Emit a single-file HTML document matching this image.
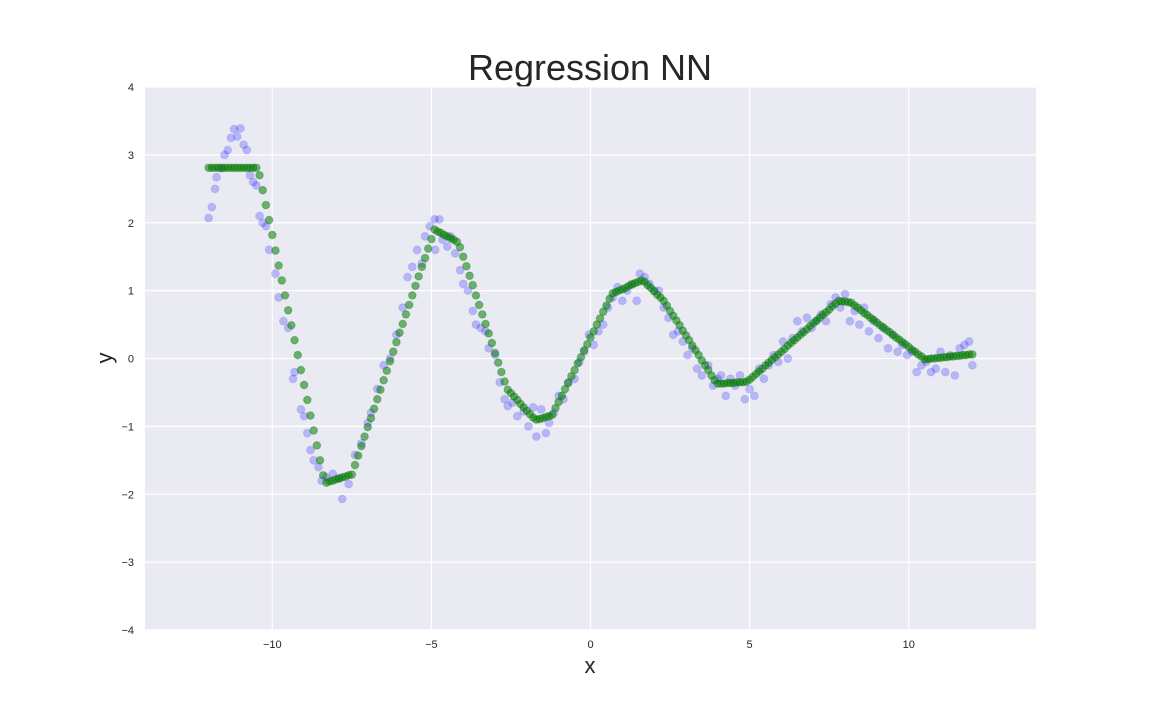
<!DOCTYPE html>
<html><head><meta charset="utf-8"><style>
html,body{margin:0;padding:0;background:#fff;}
svg{display:block;font-family:"Liberation Sans",sans-serif;}
</style></head><body>
<svg id="chart" width="1152" height="720">
<text x="590" y="80" text-anchor="middle" font-size="36" fill="#262626">Regression NN</text>
<rect x="145" y="87" width="891" height="543" fill="#eaeaf2"/>
<g id="grid"></g>
<g id="ticks"></g>
<g id="blue"></g>
<g id="green"></g>
<text x="590" y="673" text-anchor="middle" font-size="22" fill="#262626">x</text>
<text x="0" y="0" transform="translate(112,358) rotate(-90)" text-anchor="middle" font-size="22" fill="#262626">y</text>
</svg>
<script>
const xTicks = [-10, -5, 0, 5, 10];
const xTickLabels = ["\u221210", "\u22125", "0", "5", "10"];
const yTicks = [-4, -3, -2, -1, 0, 1, 2, 3, 4];
const yTickLabels = ["\u22124", "\u22123", "\u22122", "\u22121", "0", "1", "2", "3", "4"];
const greenStartX = -12;
const greenStepX = 0.1;
const greenY = [
2.81,2.81,2.81,2.81,2.81,2.81,2.81,2.81,2.81,2.81,2.81,2.81,2.81,2.81,2.81,2.81,
2.70,2.48,2.26,2.04,1.82,1.59,1.37,1.15,0.93,0.71,0.49,0.27,0.05,-0.17,-0.39,-0.61,-0.84,-1.06,-1.28,-1.50,-1.72,
-1.83,
-1.81,-1.80,-1.78,-1.77,-1.75,-1.74,-1.72,-1.71,
-1.57,-1.43,-1.29,-1.15,-1.01,-0.88,-0.74,-0.60,-0.46,-0.32,-0.18,-0.04,0.10,0.24,0.38,0.51,0.65,0.79,0.93,1.07,1.21,1.35,1.48,1.62,1.76,1.90,
1.87,1.85,1.82,1.80,1.77,1.75,1.72,
1.64,1.50,1.36,1.22,1.08,0.93,0.79,0.65,0.51,0.37,0.23,0.08,-0.06,-0.20,-0.34,-0.46,
-0.51,-0.56,-0.61,-0.67,-0.72,-0.77,-0.82,-0.87,-0.90,
-0.89,-0.88,-0.86,-0.85,-0.83,
-0.73,-0.64,-0.55,-0.45,-0.36,-0.26,-0.17,-0.07,0.02,0.12,0.21,0.31,0.40,0.50,0.59,0.69,0.78,0.88,0.96,
0.98,1.00,1.02,1.04,1.07,1.09,1.11,1.13,1.15,
1.13,1.08,1.04,0.99,0.94,0.90,0.85,0.78,0.70,0.63,0.56,0.49,0.41,0.34,0.27,0.19,0.12,0.05,-0.03,-0.10,-0.17,-0.25,-0.32,-0.37,
-0.37,-0.37,-0.36,-0.36,-0.36,-0.35,-0.35,-0.35,-0.34,
-0.31,-0.27,-0.23,-0.19,-0.15,-0.10,-0.06,-0.02,0.02,0.06,0.10,0.14,0.19,0.23,0.27,0.31,0.35,0.39,0.43,0.48,0.52,0.56,0.60,0.64,0.68,0.72,0.77,0.81,0.85,
0.84,0.84,0.83,0.82,
0.78,0.75,0.71,0.67,0.64,0.60,0.57,0.53,0.49,0.46,0.42,0.39,0.35,0.31,0.28,0.24,0.21,0.17,0.13,0.10,0.06,0.03,-0.01,
-0.01,0.00,0.00,0.01,0.01,0.02,0.02,0.03,0.03,0.04,0.04,0.05,0.05,0.06,0.06
];
const blueX = [-12,-11.9,-11.8,-11.75,-11.6,-11.5,-11.4,-11.3,-11.2,-11.1,-11.0,-10.9,-10.8,-10.7,-10.6,-10.5,-10.4,-10.3,-10.2,-10.1,-9.9,-9.8,-9.65,-9.5,-9.35,-9.3,-9.1,-9.0,-8.9,-8.8,-8.7,-8.55,-8.45,-8.3,-8.1,-7.9,-7.8,-7.6,-7.4,-7.2,-7.0,-6.9,-6.7,-6.5,-6.3,-6.1,-5.9,-5.75,-5.6,-5.45,-5.3,-5.2,-5.05,-4.9,-4.75,-4.88,-4.65,-4.5,-4.4,-4.25,-4.1,-4.0,-3.85,-3.7,-3.6,-3.45,-3.3,-3.2,-3.0,-2.85,-2.7,-2.6,-2.45,-2.3,-2.1,-1.95,-1.8,-1.7,-1.55,-1.4,-1.3,-1.15,-1.0,-0.85,-0.7,-0.5,-0.35,-0.2,-0.05,0.1,0.25,0.4,0.55,0.7,0.85,1.0,1.15,1.3,1.45,1.55,1.7,1.85,2.0,2.15,2.3,2.45,2.6,2.75,2.9,3.05,3.2,3.35,3.5,3.7,3.85,4.0,4.1,4.25,4.4,4.55,4.7,4.85,5.0,5.15,5.3,5.45,5.6,5.75,5.9,6.05,6.2,6.35,6.5,6.65,6.8,6.95,7.1,7.25,7.4,7.55,7.7,7.85,8.0,8.15,8.3,8.45,8.6,8.75,8.9,9.05,9.2,9.35,9.5,9.65,9.8,9.95,10.1,10.25,10.4,10.55,10.7,10.85,11.0,11.15,11.3,11.45,11.6,11.75,11.9,12.0];
const blueY = [2.07,2.23,2.5,2.67,2.8,3.0,3.07,3.25,3.38,3.27,3.39,3.15,3.07,2.7,2.6,2.55,2.1,2.0,1.95,1.6,1.25,0.9,0.55,0.45,-0.3,-0.2,-0.75,-0.85,-1.1,-1.35,-1.5,-1.6,-1.8,-1.75,-1.7,-1.76,-2.07,-1.85,-1.42,-1.25,-0.95,-0.8,-0.45,-0.1,0.0,0.35,0.75,1.2,1.35,1.6,1.4,1.8,1.95,2.05,2.05,1.6,1.75,1.65,1.8,1.55,1.3,1.1,1.0,0.7,0.5,0.45,0.4,0.15,0.05,-0.35,-0.6,-0.7,-0.65,-0.85,-0.78,-1.0,-0.72,-1.15,-0.75,-1.1,-0.95,-0.8,-0.55,-0.6,-0.35,-0.3,-0.05,0.1,0.35,0.2,0.4,0.5,0.75,0.9,1.05,0.85,1.0,1.1,0.85,1.25,1.2,1.1,1.0,1.0,0.75,0.6,0.35,0.4,0.25,0.05,0.15,-0.15,-0.25,-0.1,-0.4,-0.3,-0.25,-0.55,-0.3,-0.4,-0.25,-0.6,-0.45,-0.55,-0.15,-0.3,-0.1,0.05,-0.05,0.25,0.0,0.3,0.55,0.4,0.6,0.45,0.55,0.65,0.55,0.8,0.9,0.75,0.95,0.55,0.7,0.5,0.75,0.4,0.55,0.3,0.45,0.15,0.35,0.1,0.2,0.05,0.1,-0.2,-0.1,-0.05,-0.2,-0.15,0.1,-0.2,0.05,-0.25,0.15,0.2,0.25,-0.1];

const NS = "http://www.w3.org/2000/svg";
const L = 145, R = 1036, T = 87, B = 630;
const xMin = -14, xMax = 14, yMin = -4, yMax = 4;
function sx(v){ return L + (v - xMin) / (xMax - xMin) * (R - L); }
function sy(v){ return B - (v - yMin) / (yMax - yMin) * (B - T); }
function mk(tag, attrs){ const e = document.createElementNS(NS, tag); for (const k in attrs) e.setAttribute(k, attrs[k]); return e; }

const grid = document.getElementById('grid');
const ticks = document.getElementById('ticks');
xTicks.forEach((v, i) => {
  const ln = mk('line', {x1: sx(v), x2: sx(v), y1: T, y2: B, stroke: '#fff', 'stroke-width': 1.2});
  
  
  grid.appendChild(ln);
  const t = mk('text', {x: sx(v), y: B + 18, 'text-anchor': 'middle', 'font-size': 11, fill: '#262626'});
  t.textContent = xTickLabels[i];
  
  
  ticks.appendChild(t);
});
yTicks.forEach((v, i) => {
  const ln = mk('line', {x1: L, x2: R, y1: sy(v), y2: sy(v), stroke: '#fff', 'stroke-width': 1.2});
  
  
  grid.appendChild(ln);
  const t = mk('text', {x: L - 11, y: sy(v) + 4, 'text-anchor': 'end', 'font-size': 11, fill: '#262626'});
  t.textContent = yTickLabels[i];
  
  
  ticks.appendChild(t);
});
const blue = document.getElementById('blue');
blueX.forEach((v, i) => {
  const c = mk('circle', {cx: sx(v), cy: sy(blueY[i]), r: 4, fill: '#0000ff', 'fill-opacity': 0.22, stroke: '#0000ff', 'stroke-opacity': 0.1});
  
  
  blue.appendChild(c);
});
const green = document.getElementById('green');
greenY.forEach((v, i) => {
  const xv = greenStartX + greenStepX * i;
  const c = mk('circle', {cx: sx(xv), cy: sy(v), r: 3.8, fill: '#008000', 'fill-opacity': 0.55, stroke: '#006400', 'stroke-opacity': 0.3});
  
  
  green.appendChild(c);
});
</script>
</body></html>
